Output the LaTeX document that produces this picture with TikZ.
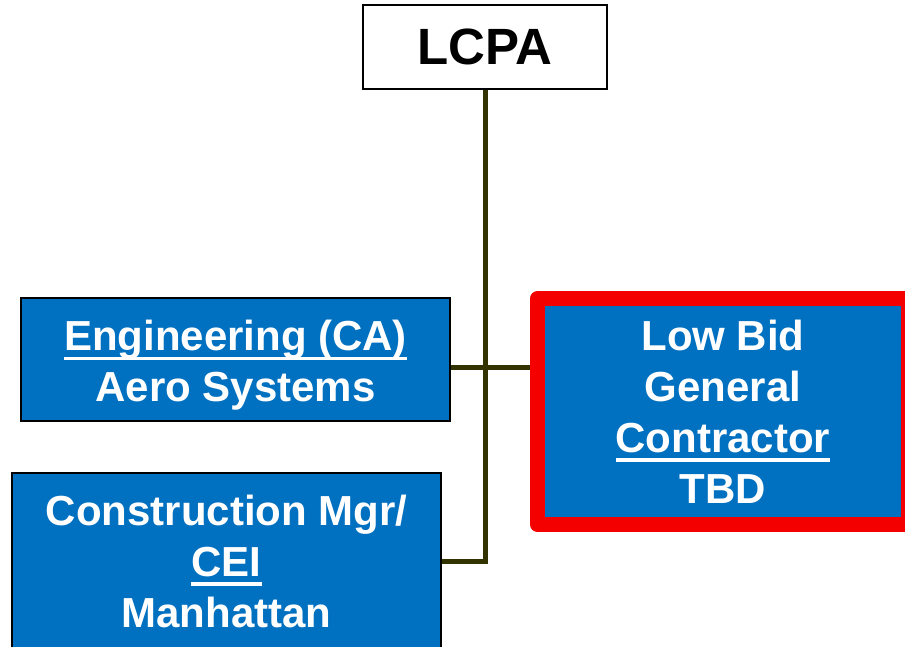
\documentclass[tikz,border=0pt]{standalone}
\usepackage{fontspec}
\setmainfont{Liberation Sans}
\definecolor{boxblue}{HTML}{0070C0}
\definecolor{connc}{HTML}{333300}
\definecolor{gcred}{HTML}{F40000}
\newcommand\ulbox[1]{\sbox0{#1}\rlap{\rule[-0.23em]{\wd0}{0.09em}}\usebox0}
\tikzset{
  orgbox/.style={rectangle, draw=black, line width=1.5pt, fill=boxblue, text=white,
    inner sep=0pt, align=center, font=\bfseries\fontsize{42}{51}\selectfont},
  conn/.style={draw=connc, line width=5pt}
}
\begin{document}
\begin{tikzpicture}[x=1pt,y=-1pt]
\useasboundingbox (0,0) rectangle (905,647);
\node[rectangle, draw=black, line width=1.5pt, fill=white, inner sep=0pt,
  minimum width=244pt, minimum height=84pt,
  font=\bfseries\fontsize{51}{60}\selectfont] (lcpa) at (485,47) {LCPA};
\node[orgbox, minimum width=429pt, minimum height=123pt] (eng) at (235.5,359.5)
  {\rule{0pt}{42pt}\ulbox{Engineering (CA)}\\Aero Systems};
\node[orgbox, minimum width=429pt, minimum height=176pt] (cm) at (226.5,561)
  {Construction Mgr/\\\ulbox{CEI}\\Manhattan};
\node[orgbox, draw=gcred, line width=15pt, line join=round,
  minimum width=371pt, minimum height=226pt] (gc) at (723,411.5)
  {Low Bid\\General\\\ulbox{Contractor}\\TBD};
\coordinate (j1) at (485,367);
\draw[conn] (lcpa.south) |- (cm.east);
\draw[conn] (eng.east |- j1) -- (gc.west |- j1);
\end{tikzpicture}
\end{document}
